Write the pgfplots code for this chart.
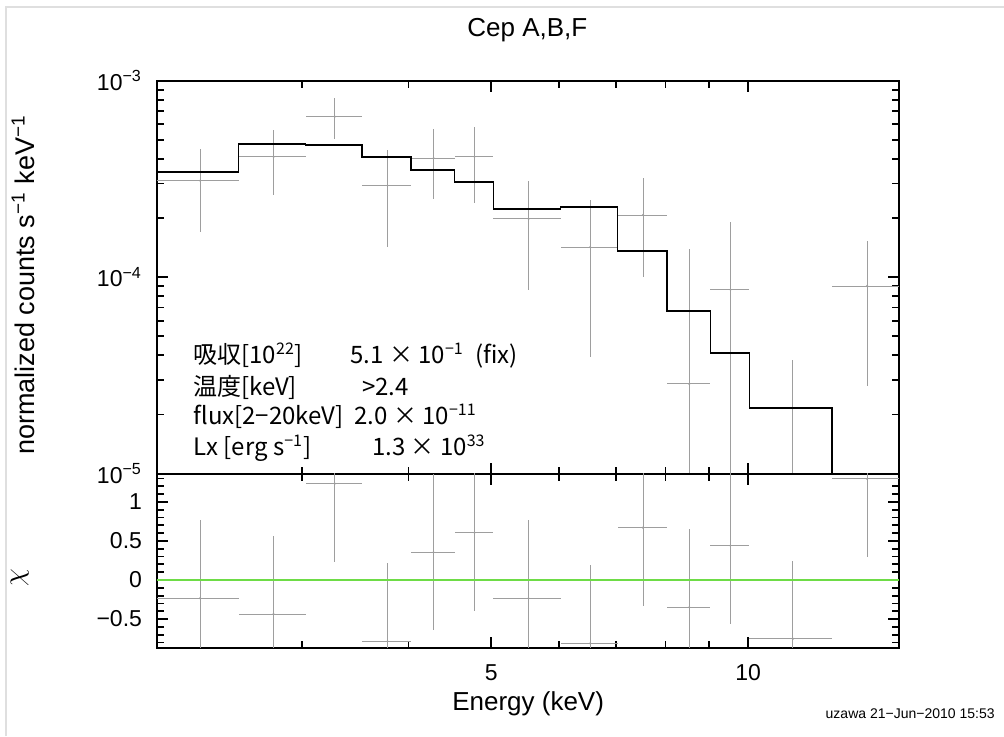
\documentclass[border=0pt]{standalone}
\usepackage{pgfplots}
\pgfplotsset{compat=1.18}
\usepackage{pgfplotstable}
\usepackage{fontspec}
\setmainfont{Liberation Sans}
\newfontfamily\jp{Noto Sans CJK JP}
\definecolor{errgray}{gray}{0.62}
\definecolor{zerogreen}{RGB}{110,220,70}

% x = bin centre (keV), xm/xp = half bin widths, y = normalized counts, ym/yp = errors, chi = residual, e = residual error
\pgfplotstableread{
x     xm   xp   y        ym       yp       chi     e
2.28  0.25 0.25 3.10e-4  1.41e-4  1.39e-4  -0.235  1
2.78  0.25 0.25 4.10e-4  1.47e-4  1.51e-4  -0.436  1
3.28  0.25 0.25 6.56e-4  1.52e-4  1.57e-4   1.235  1
3.78  0.25 0.25 2.93e-4  1.50e-4  1.51e-4  -0.786  1
4.28  0.25 0.25 4.03e-4  1.54e-4  1.63e-4   0.355  1
4.78  0.25 0.25 4.10e-4  1.71e-4  1.73e-4   0.606  1
5.53  0.50 0.50 1.98e-4  1.12e-4  1.12e-4  -0.235  1
6.53  0.50 0.50 1.42e-4  1.03e-4  1.05e-4  -0.812  1
7.53  0.50 0.50 2.07e-4  1.07e-4  1.11e-4   0.671  1
8.53  0.50 0.50 2.86e-5  2.36e-5  1.104e-4 -0.350  1
9.53  0.50 0.50 8.63e-5  8.13e-5  1.037e-4  0.440  1
11.28 1.25 1.25 5.0e-6   1.0e-6   3.29e-5  -0.753  1
13.78 1.25 1.25 9.01e-5  6.22e-5  6.29e-5   1.296  1
}\spec

\pgfplotsset{
  every axis/.append style={
    scale only axis, width=371.15pt, anchor=south west,
    xmode=log, xmin=2.03, xmax=15.03,
    axis line style={line width=1pt},
    tick style={line width=0.9pt, black},
    major tick length=5.5pt, minor tick length=3.5pt,
    xtick={10}, minor xtick={3,4,6,7,8,9},
    extra x ticks={5},
    tick label style={font=\fontsize{11.5}{12}\selectfont},
    yticklabel style={xshift=-4pt},
    xticklabel style={yshift=-4.8pt},
  },
}

\begin{document}
\begin{tikzpicture}
\useasboundingbox (0,0) rectangle (502pt,368pt);
\draw[gray!25, line width=0.6pt] (3pt,0) -- (3pt,364.5pt) -- (502pt,364.5pt);

% ---- upper panel: spectrum ----
\begin{axis}[at={(78.5pt,131.25pt)}, height=196.4pt,
  ymode=log, ymin=1e-5, ymax=1e-3,
  ytick={1e-5,1e-4,1e-3},
  yticklabels={10\textsuperscript{−5},10\textsuperscript{−4},10\textsuperscript{−3}},
  minor ytick={2e-5,3e-5,4e-5,5e-5,6e-5,7e-5,8e-5,9e-5,2e-4,3e-4,4e-4,5e-4,6e-4,7e-4,8e-4,9e-4},
  xticklabels={}, extra x tick labels={},
  title={Cep A,B,F},
  every axis title/.style={at={(axis description cs:0.499,1.112)}, anchor=base, font=\fontsize{13}{15}\selectfont},
  ylabel={normalized counts s\textsuperscript{−1} keV\textsuperscript{−1}},
  every axis y label/.style={at={(axis description cs:-0.18,0.48)}, rotate=90, anchor=center, font=\fontsize{13.5}{15}\selectfont},
]
\addplot[only marks, mark=*, mark size=0.3pt, errgray,
    error bars/.cd, x dir=both, x explicit, y dir=both, y explicit,
    error mark=none, error bar style={errgray, line width=0.45pt}]
  table[x=x, y=y, x error minus=xm, x error plus=xp, y error minus=ym, y error plus=yp] {\spec};
\addplot[black, line width=0.8pt, const plot, mark=none] coordinates {
 (2.03,3.42e-4) (2.53,4.77e-4) (3.03,4.69e-4) (3.53,4.09e-4) (4.03,3.51e-4)
 (4.53,3.06e-4) (5.03,2.23e-4) (6.03,2.28e-4) (7.03,1.36e-4) (8.03,6.71e-5)
 (9.03,4.12e-5) (10.03,2.16e-5) (12.53,8e-6) (15.03,8e-6)};
\end{axis}

% ---- lower panel: residuals ----
\begin{axis}[at={(78.5pt,44.15pt)}, height=87.1pt,
  ymin=-0.868, ymax=1.365,
  ytick={-0.5,0,0.5,1}, yticklabels={−0.5,0,0.5,1},
  minor ytick={-0.8,-0.7,-0.6,-0.4,-0.3,-0.2,-0.1,0.1,0.2,0.3,0.4,0.6,0.7,0.8,0.9,1.1,1.2,1.3},
  xticklabels={10}, extra x tick labels={5},
  xlabel={Energy (keV)},
  every axis x label/.style={at={(axis description cs:0.5,-0.358)}, anchor=base, font=\fontsize{13}{15}\selectfont},
  ylabel={$\chi$},
  every axis y label/.style={at={(axis description cs:-0.185,0.40)}, rotate=90, anchor=center, font=\fontsize{14}{15}\selectfont},
]
\addplot[only marks, mark=*, mark size=0.3pt, errgray,
    error bars/.cd, x dir=both, x explicit, y dir=both, y explicit,
    error mark=none, error bar style={errgray, line width=0.45pt}]
  table[x=x, y=chi, x error minus=xm, x error plus=xp, y error minus=e, y error plus=e] {\spec};
\addplot[zerogreen, line width=1pt, mark=none] coordinates {(2.03,0) (15.03,0)};
\end{axis}

% ---- fit parameters ----
\begin{scope}[every node/.style={anchor=base west, inner sep=0pt, font=\jp\fontsize{12}{13}\selectfont}]
\node at (96.5pt,186.35pt) {吸収[10\textsuperscript{22}]};
\node at (175pt,186.35pt) {5.1 × 10\textsuperscript{−1}};
\node at (237.5pt,186.35pt) {(fix)};
\node at (96.5pt,170.5pt) {温度[keV]};
\node at (180.85pt,170.5pt) {>2.4};
\node at (96.5pt,156pt) {flux[2−20keV]};
\node at (177pt,156pt) {2.0 × 10\textsuperscript{−11}};
\node at (96.5pt,140.5pt) {Lx [erg s\textsuperscript{−1}]};
\node at (185.85pt,140.5pt) {1.3 × 10\textsuperscript{33}};
\end{scope}

\node[anchor=base east, inner sep=0pt, font=\fontsize{7}{8}\selectfont] at (497.5pt,9pt) {uzawa 21−Jun−2010 15:53};
\end{tikzpicture}
\end{document}
